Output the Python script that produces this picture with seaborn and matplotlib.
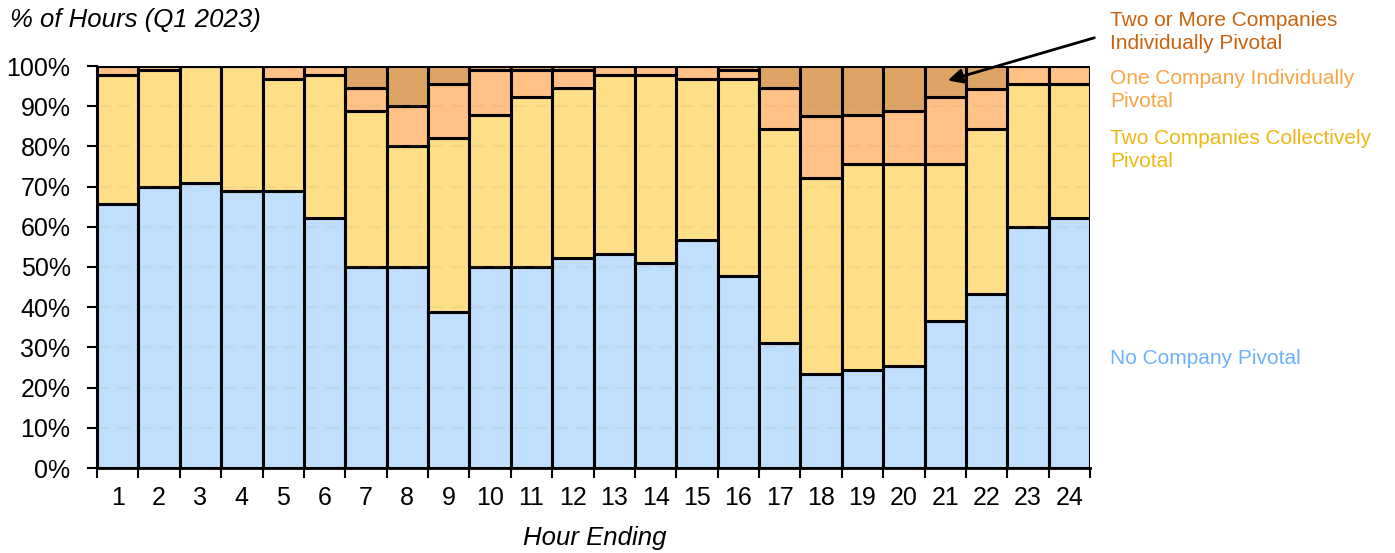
import matplotlib
matplotlib.use("Agg")
import matplotlib.pyplot as plt
import seaborn as sns
import numpy as np
import pandas as pd
from matplotlib.ticker import FixedLocator, PercentFormatter

# hour ending 1..24
hours = [str(h) for h in range(1, 25)]

# share of hours (%) per pivotal category, bottom to top
no_pivotal = [65.6, 70.0, 70.8, 68.9, 68.9, 62.1, 50.0, 50.0, 38.9, 50.0, 50.0, 52.2,
              53.2, 51.0, 56.6, 47.8, 31.1, 23.4, 24.4, 25.4, 36.6, 43.3, 60.0, 62.3]
two_collective = [32.2, 28.9, 29.2, 31.1, 27.9, 35.7, 38.8, 30.1, 43.3, 37.8, 42.3, 42.3,
                  44.6, 46.8, 40.2, 48.9, 53.2, 48.8, 51.2, 50.2, 39.0, 41.0, 35.6, 33.3]
one_individual = [2.2, 1.1, 0.0, 0.0, 3.2, 2.2, 5.7, 9.9, 13.3, 11.2, 6.6, 4.4,
                  2.2, 2.2, 3.2, 2.2, 10.2, 15.4, 12.2, 13.3, 16.7, 10.1, 4.4, 4.4]
two_more_individual = [0.0, 0.0, 0.0, 0.0, 0.0, 0.0, 5.5, 10.0, 4.5, 1.0, 1.1, 1.1,
                       0.0, 0.0, 0.0, 1.1, 5.5, 12.4, 12.2, 11.1, 7.7, 5.6, 0.0, 0.0]

df = pd.DataFrame({
    "hour": hours,
    "none": no_pivotal,
    "two_coll": two_collective,
    "one_ind": one_individual,
    "two_ind": two_more_individual,
})

series = [
    ("none", "#C0DFFC", "No Company Pivotal", "#6CB2FA"),
    ("two_coll", "#FEDF88", "Two Companies Collectively\nPivotal", "#EFB714"),
    ("one_ind", "#FFC185", "One Company Individually\nPivotal", "#F9A445"),
    ("two_ind", "#DDA465", "Two or More Companies\nIndividually Pivotal", "#C9620D"),
]

plt.rcParams['font.family'] = ['Liberation Sans', 'DejaVu Sans']

fig = plt.figure(figsize=(13.95, 5.53), dpi=100)
ax = fig.add_axes([97 / 1395, 85 / 553, 993 / 1395, 402 / 553])

bottom = np.zeros(len(hours))
for col, color, _, _ in series:
    sns.barplot(data=df, x="hour", y=col, bottom=bottom, color=color, saturation=1,
                width=1.0, edgecolor="black", linewidth=2.2, ax=ax, zorder=2)
    bottom = bottom + df[col].to_numpy()

ax.set_xlim(-0.5, len(hours) - 0.5)
ax.set_ylim(0, 100)
ax.yaxis.set_major_locator(FixedLocator(np.arange(0, 101, 10)))
ax.yaxis.set_major_formatter(PercentFormatter(decimals=0))

# faint dashed gridlines shown through the bars
for yv in np.arange(10, 100, 10):
    ax.axhline(yv, color="#a09880", alpha=0.12, lw=1.5, ls=(0, (6, 4)), zorder=3)

# tick marks sit between the bars on the x axis
ax.xaxis.set_minor_locator(FixedLocator(np.arange(-0.5, len(hours), 1.0)))
ax.tick_params(axis="x", which="major", length=0, labelsize=18, pad=13, colors="black")
ax.tick_params(axis="x", which="minor", length=7, width=1.5, color="black")
ax.tick_params(axis="y", which="major", length=7, width=1.5, labelsize=18, pad=12)

ax.set_xlabel("")
ax.set_ylabel("")
for s in ["top", "right"]:
    ax.spines[s].set_visible(False)
ax.spines["left"].set_linewidth(1.5)
ax.spines["bottom"].set_linewidth(2.0)

fig.text(10 / 1395, 1 - 20 / 553, "% of Hours (Q1 2023)", fontsize=18.5, style="italic",
         ha="left", va="center")
fig.text(595 / 1395, 1 - 538 / 553, "Hour Ending", fontsize=18.5, style="italic",
         ha="center", va="center")

# series labels on the right
label_y = {"two_ind": 32, "one_ind": 90, "two_coll": 150, "none": 358}
for col, _, text, tcolor in series:
    fig.text(1110 / 1395, 1 - label_y[col] / 553, text, fontsize=15, color=tcolor,
             ha="left", va="center", linespacing=1.3)

ax.annotate("", xy=(20, 96.2), xycoords="data",
            xytext=(1097, 553 - 37), textcoords="figure pixels",
            arrowprops=dict(arrowstyle="-|>", color="black", lw=2, mutation_scale=22),
            annotation_clip=False, zorder=5)

fig.savefig("out.png", dpi=100)
